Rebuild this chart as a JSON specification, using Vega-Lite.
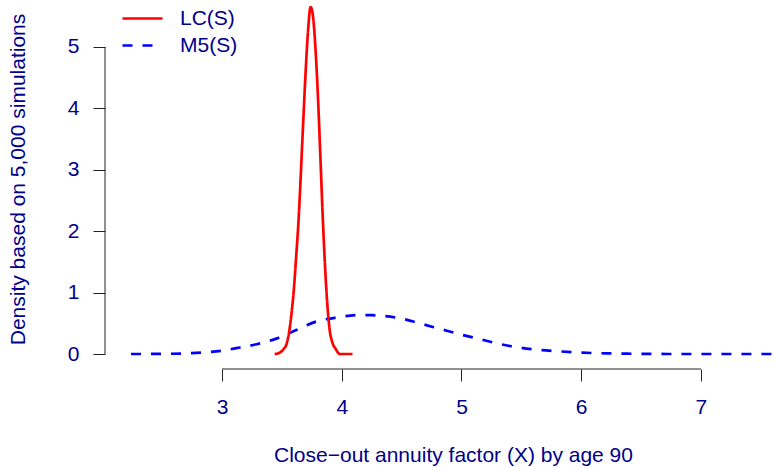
{
  "$schema": "https://vega.github.io/schema/vega-lite/v6.json",
  "width": 669,
  "height": 369,
  "autosize": {"type": "none"},
  "padding": {"left": 105, "top": 0, "right": 0, "bottom": 98},
  "config": {"view": {"stroke": null}, "font": "Liberation Sans"},
  "datasets": {
    "dens": [
      {"series": "M5(S)", "x": 2.24, "y": 0},
      {"series": "M5(S)", "x": 2.5, "y": 0.003},
      {"series": "M5(S)", "x": 2.7, "y": 0.01},
      {"series": "M5(S)", "x": 2.85, "y": 0.025},
      {"series": "M5(S)", "x": 3.0, "y": 0.055},
      {"series": "M5(S)", "x": 3.12, "y": 0.095},
      {"series": "M5(S)", "x": 3.29, "y": 0.16},
      {"series": "M5(S)", "x": 3.46, "y": 0.255},
      {"series": "M5(S)", "x": 3.62, "y": 0.39},
      {"series": "M5(S)", "x": 3.79, "y": 0.53},
      {"series": "M5(S)", "x": 3.96, "y": 0.595},
      {"series": "M5(S)", "x": 4.05, "y": 0.62},
      {"series": "M5(S)", "x": 4.15, "y": 0.635},
      {"series": "M5(S)", "x": 4.25, "y": 0.632},
      {"series": "M5(S)", "x": 4.32, "y": 0.624},
      {"series": "M5(S)", "x": 4.49, "y": 0.58},
      {"series": "M5(S)", "x": 4.65, "y": 0.5},
      {"series": "M5(S)", "x": 4.82, "y": 0.41},
      {"series": "M5(S)", "x": 4.99, "y": 0.32},
      {"series": "M5(S)", "x": 5.15, "y": 0.244},
      {"series": "M5(S)", "x": 5.32, "y": 0.163},
      {"series": "M5(S)", "x": 5.49, "y": 0.103},
      {"series": "M5(S)", "x": 5.66, "y": 0.065},
      {"series": "M5(S)", "x": 5.82, "y": 0.043},
      {"series": "M5(S)", "x": 6.01, "y": 0.022},
      {"series": "M5(S)", "x": 6.21, "y": 0.011},
      {"series": "M5(S)", "x": 6.38, "y": 0.005},
      {"series": "M5(S)", "x": 6.6, "y": 0.002},
      {"series": "M5(S)", "x": 6.82, "y": 0},
      {"series": "M5(S)", "x": 7.62, "y": 0},
      {"series": "LC(S)", "x": 3.44, "y": 0},
      {"series": "LC(S)", "x": 3.48, "y": 0.02},
      {"series": "LC(S)", "x": 3.51, "y": 0.07},
      {"series": "LC(S)", "x": 3.54, "y": 0.17},
      {"series": "LC(S)", "x": 3.56, "y": 0.35},
      {"series": "LC(S)", "x": 3.58, "y": 0.65},
      {"series": "LC(S)", "x": 3.6, "y": 1.05},
      {"series": "LC(S)", "x": 3.62, "y": 1.6},
      {"series": "LC(S)", "x": 3.64, "y": 2.2},
      {"series": "LC(S)", "x": 3.66, "y": 3.0},
      {"series": "LC(S)", "x": 3.68, "y": 3.85},
      {"series": "LC(S)", "x": 3.7, "y": 4.65},
      {"series": "LC(S)", "x": 3.72, "y": 5.3},
      {"series": "LC(S)", "x": 3.74, "y": 5.65},
      {"series": "LC(S)", "x": 3.76, "y": 5.5},
      {"series": "LC(S)", "x": 3.78, "y": 5.0},
      {"series": "LC(S)", "x": 3.8, "y": 4.25},
      {"series": "LC(S)", "x": 3.82, "y": 3.3},
      {"series": "LC(S)", "x": 3.84, "y": 2.3},
      {"series": "LC(S)", "x": 3.86, "y": 1.45},
      {"series": "LC(S)", "x": 3.88, "y": 0.8},
      {"series": "LC(S)", "x": 3.9, "y": 0.38},
      {"series": "LC(S)", "x": 3.92, "y": 0.2},
      {"series": "LC(S)", "x": 3.95, "y": 0.08},
      {"series": "LC(S)", "x": 3.985, "y": 0},
      {"series": "LC(S)", "x": 4.09, "y": 0}
    ]
  },
  "layer": [
    {
      "data": {"name": "dens"},
      "mark": {"type": "line", "clip": true, "strokeWidth": 2.7, "interpolate": "monotone"},
      "encoding": {
        "x": {
          "field": "x", "type": "quantitative",
          "scale": {"domain": [2.023, 7.61], "nice": false, "zero": false},
          "axis": {
            "values": [3, 4, 5, 6, 7], "format": "d", "domain": false, "grid": false,
            "tickSize": 12, "tickColor": "#222222", "tickWidth": 1,
            "labelFontSize": 21, "labelColor": "#00008B", "labelBaseline": "alphabetic", "labelPadding": 32,
            "labelFlush": false,
            "title": "Close−out annuity factor (X) by age 90",
            "titleFontSize": 21, "titleFontWeight": "normal", "titleColor": "#00008B",
            "titleX": 348, "titleY": 92, "titleBaseline": "alphabetic", "titleAlign": "center"
          }
        },
        "y": {
          "field": "y", "type": "quantitative",
          "scale": {"domain": [-0.244, 5.765], "nice": false, "zero": false},
          "axis": {
            "values": [0, 1, 2, 3, 4, 5], "format": "d", "domain": false, "grid": false,
            "tickSize": 12, "tickColor": "#222222", "tickWidth": 1,
            "labelFontSize": 21, "labelColor": "#00008B", "labelPadding": 14, "labelAngle": 0,
            "labelBaseline": "middle", "labelFlush": false,
            "title": "Density based on 5,000 simulations",
            "titleFontSize": 21, "titleFontWeight": "normal", "titleColor": "#00008B",
            "titleX": -81, "titleY": 179, "titleAngle": -90, "titleBaseline": "alphabetic", "titleAlign": "center"
          }
        },
        "color": {
          "field": "series", "type": "nominal",
          "scale": {"domain": ["LC(S)", "M5(S)"], "range": ["#FF0000", "#0000FF"]},
          "legend": {
            "orient": "none", "legendX": 26, "legendY": 7, "title": null,
            "symbolType": "M-2,0H2", "symbolSize": 400, "symbolStrokeWidth": 2.7,
            "labelFontSize": 21, "labelColor": "#00008B", "labelOffset": 26, "rowPadding": 5
          }
        },
        "strokeDash": {
          "field": "series", "type": "nominal",
          "scale": {"domain": ["LC(S)", "M5(S)"], "range": [[1, 0], [10, 10]]},
          "legend": {
            "orient": "none", "legendX": 26, "legendY": 7, "title": null,
            "symbolType": "M-2,0H2", "symbolSize": 400, "symbolStrokeWidth": 2.7,
            "labelFontSize": 21, "labelColor": "#00008B", "labelOffset": 26, "rowPadding": 5
          }
        }
      }
    },
    {
      "data": {"values": [{}]},
      "mark": {"type": "rule", "color": "#222222", "strokeWidth": 1},
      "encoding": {
        "x": {"datum": 3, "type": "quantitative"},
        "x2": {"datum": 7},
        "y": {"datum": -0.244, "type": "quantitative"}
      }
    },
    {
      "data": {"values": [{}]},
      "mark": {"type": "rule", "color": "#222222", "strokeWidth": 1},
      "encoding": {
        "x": {"datum": 2.023, "type": "quantitative"},
        "y": {"datum": 0, "type": "quantitative"},
        "y2": {"datum": 5}
      }
    }
  ]
}
